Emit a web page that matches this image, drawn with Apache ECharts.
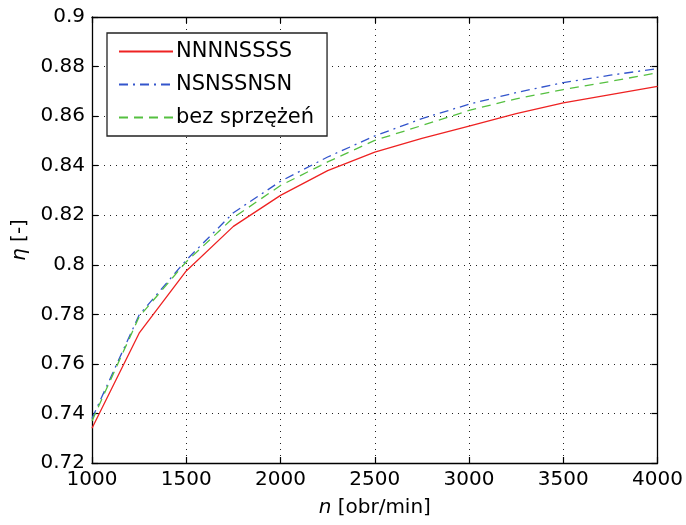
<!DOCTYPE html>
<html>
<head>
<meta charset="utf-8">
<script src="https://cdn.jsdelivr.net/npm/echarts@6/dist/echarts.min.js"></script>
<style>html,body{margin:0;padding:0;background:#fff;}#c{width:686px;height:525px;}</style>
</head>
<body>
<div id="c"></div>
<script>
const speeds = [1000, 1250, 1500, 1750, 2000, 2250, 2500, 2750, 3000, 3250, 3500, 3750, 4000];
const etaNNNNSSSS = [0.734, 0.7724, 0.7975, 0.8155, 0.828, 0.838, 0.8455, 0.851, 0.856, 0.861, 0.8653, 0.8687, 0.872];
const etaNSNSSNSN = [0.738, 0.7797, 0.8019, 0.821, 0.8337, 0.8435, 0.852, 0.859, 0.8648, 0.8695, 0.8735, 0.8765, 0.8792];
const etaBez = [0.737, 0.779, 0.8012, 0.819, 0.832, 0.8415, 0.8502, 0.8562, 0.8623, 0.867, 0.8707, 0.874, 0.8775];
const seriesNames = ['NNNNSSSS', 'NSNSSNSN', 'bez sprzężeń'];
const xTicks = { min: 1000, max: 4000, interval: 500 };
const yTicks = { min: 0.72, max: 0.9, interval: 0.02 };

const FONT = 'DejaVu Sans';
const pair = (ys) => speeds.map((x, i) => [x, ys[i]]);
const gridLine = { show: true, lineStyle: { color: '#222', width: 1, type: [1, 5] } };
const axisLine = { show: true, onZero: false, lineStyle: { color: '#000', width: 1.3 } };
const tick = { show: true, inside: true, length: 6, lineStyle: { color: '#000', width: 1.2 } };
const fmt = v => String(parseFloat(v.toFixed(2)));

const chart = echarts.init(document.getElementById('c'), null, { renderer: 'canvas' });
chart.setOption({
  animation: false,
  backgroundColor: '#fff',
  grid: { left: 92, right: 26, top: 17, bottom: 62, containLabel: false },
  legend: {
    data: seriesNames,
    orient: 'vertical',
    left: 107, top: 33,
    backgroundColor: '#fff',
    borderColor: '#222', borderWidth: 1.3, borderRadius: 0,
    padding: [8, 13, 8, 11],
    itemWidth: 54, itemHeight: 20, itemGap: 12,
    itemStyle: { opacity: 0 },
    textStyle: { fontFamily: FONT, fontSize: 21, color: '#000', padding: [0, 0, 0, -2] }
  },
  xAxis: [{
    type: 'value', min: xTicks.min, max: xTicks.max, interval: xTicks.interval,
    position: 'bottom',
    axisLine, axisTick: tick, splitLine: gridLine,
    axisLabel: { margin: 7, fontFamily: FONT, fontSize: 20, color: '#000', formatter: v => String(v) },
    name: '{i|n} [obr/min]', nameLocation: 'middle', nameGap: 35,
    nameTextStyle: { fontFamily: FONT, fontSize: 20, color: '#000', verticalAlign: 'top',
      rich: { i: { fontFamily: FONT, fontSize: 20, fontStyle: 'italic', color: '#000' } } }
  }, {
    type: 'value', min: xTicks.min, max: xTicks.max, interval: xTicks.interval,
    position: 'top',
    axisLine, axisTick: tick, splitLine: { show: false }, axisLabel: { show: false }
  }],
  yAxis: [{
    type: 'value', min: yTicks.min, max: yTicks.max, interval: yTicks.interval,
    position: 'left',
    axisLine, axisTick: tick, splitLine: gridLine,
    axisLabel: { margin: 7, fontFamily: FONT, fontSize: 20, color: '#000', formatter: fmt },
    name: '{i|η} [-]', nameLocation: 'middle', nameGap: 59, nameRotate: 90,
    nameTextStyle: { fontFamily: FONT, fontSize: 20, color: '#000',
      rich: { i: { fontFamily: FONT, fontSize: 20, fontStyle: 'italic', color: '#000' } } }
  }, {
    type: 'value', min: yTicks.min, max: yTicks.max, interval: yTicks.interval,
    position: 'right',
    axisLine, axisTick: tick, splitLine: { show: false }, axisLabel: { show: false }
  }],
  series: [
    { name: seriesNames[0], type: 'line', data: pair(etaNNNNSSSS), symbol: 'none', smooth: false,
      lineStyle: { color: '#ee2222', width: 1.3, type: 'solid' }, itemStyle: { color: '#ee2222' } },
    { name: seriesNames[1], type: 'line', data: pair(etaNSNSSNSN), symbol: 'none', smooth: false,
      lineStyle: { color: '#3355cc', width: 1.3, type: [9, 5, 2, 5] }, itemStyle: { color: '#3355cc' } },
    { name: seriesNames[2], type: 'line', data: pair(etaBez), symbol: 'none', smooth: false,
      lineStyle: { color: '#55c040', width: 1.3, type: [9, 6] }, itemStyle: { color: '#55c040' } }
  ]
});
</script>
</body>
</html>
